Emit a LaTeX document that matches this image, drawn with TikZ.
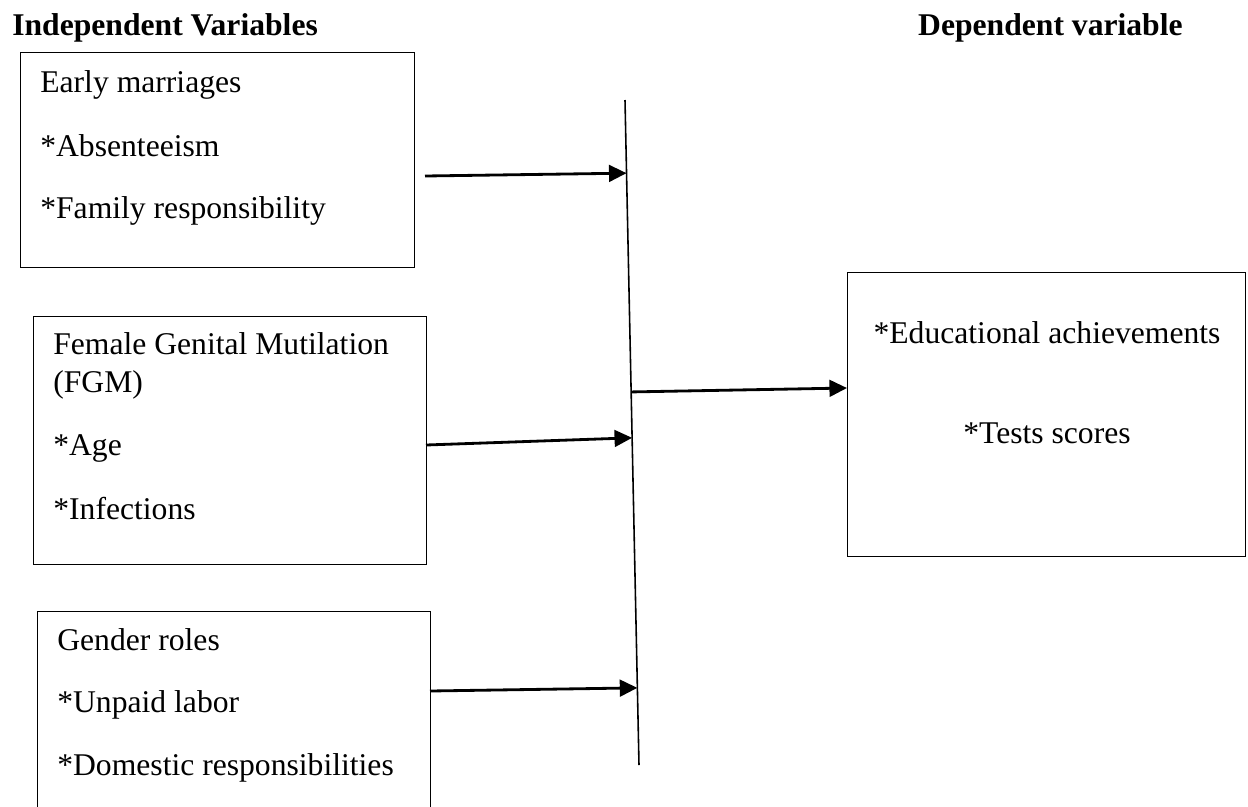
\documentclass[tikz,border=0pt]{standalone}
\usepackage{fontspec}
\setmainfont{Liberation Serif}
\usepackage{tikz}
\usetikzlibrary{arrows.meta,positioning,calc}

\tikzset{
  varbox/.style={draw, line width=0.6pt, anchor=north west, inner sep=0pt},
  itemtext/.style={anchor=base west, inner sep=0pt, font=\fontsize{18}{21}\selectfont},
  outtext/.style={anchor=base, inner sep=0pt, font=\fontsize{18}{21}\selectfont},
  headtext/.style={inner sep=0pt, font=\fontsize{18}{21}\selectfont\bfseries},
  link/.style={line width=1.6pt, -{Triangle[length=10pt,width=9.5pt]}}
}

\begin{document}
\begin{tikzpicture}[x=0.02cm, y=-0.02cm]
\clip (0,0) rectangle (1248,806);

% headings
\node[headtext, anchor=base west] (indhead) at (12,35) {Independent Variables};
\node[headtext, anchor=base east] (dephead) at (1183,35) {Dependent variable};

% independent variable boxes
\node[varbox, minimum width=394*0.02cm, minimum height=215*0.02cm] (marr) at (20,52) {};
\node[itemtext] (marra) at (40,92) {Early marriages};
\node[itemtext] (marrb) at (40,156) {*Absenteeism};
\node[itemtext] (marrc) at (40,218) {*Family responsibility};

\node[varbox, minimum width=393*0.02cm, minimum height=248*0.02cm] (fgm) at (33,316) {};
\node[itemtext] (fgma) at (53,354) {Female Genital Mutilation};
\node[itemtext] (fgmb) at (53,392) {(FGM)};
\node[itemtext] (fgmc) at (53,455) {*Age};
\node[itemtext] (fgmd) at (53,519) {*Infections};

\node[varbox, minimum width=393*0.02cm, minimum height=240*0.02cm] (gend) at (37,611) {};
\node[itemtext] (genda) at (57,650) {Gender roles};
\node[itemtext] (gendb) at (57,712) {*Unpaid labor};
\node[itemtext] (gendc) at (57,775) {*Domestic responsibilities};

% dependent variable box
\node[varbox, minimum width=398*0.02cm, minimum height=284*0.02cm] (educ) at (847,272) {};
\node[outtext] (educa) at (1047,343) {*Educational achievements};
\node[outtext] (educb) at (1047,443) {*Tests scores};

% joining line
\coordinate (jtop) at (625,100);
\coordinate (jbot) at (639,765);
\draw[line width=0.9pt] (jtop) -- (jbot);

% arrows into the joining line
\coordinate (ja) at ($(jtop)!0.110!(jbot)$);
\coordinate (jb) at ($(jtop)!0.508!(jbot)$);
\coordinate (jc) at ($(jtop)!0.884!(jbot)$);
\coordinate (jd) at ($(jtop)!0.439!(jbot)$);
\coordinate (sa) at (425,176);
\coordinate (sb) at (426,445);
\coordinate (sc) at (430,691);
\draw[link] (sa) -- (ja);
\draw[link] (sb) -- (jb);
\draw[link] (sc) -- (jc);
\draw[link] (jd) -- (educ.west |- 0,388);
\end{tikzpicture}
\end{document}
